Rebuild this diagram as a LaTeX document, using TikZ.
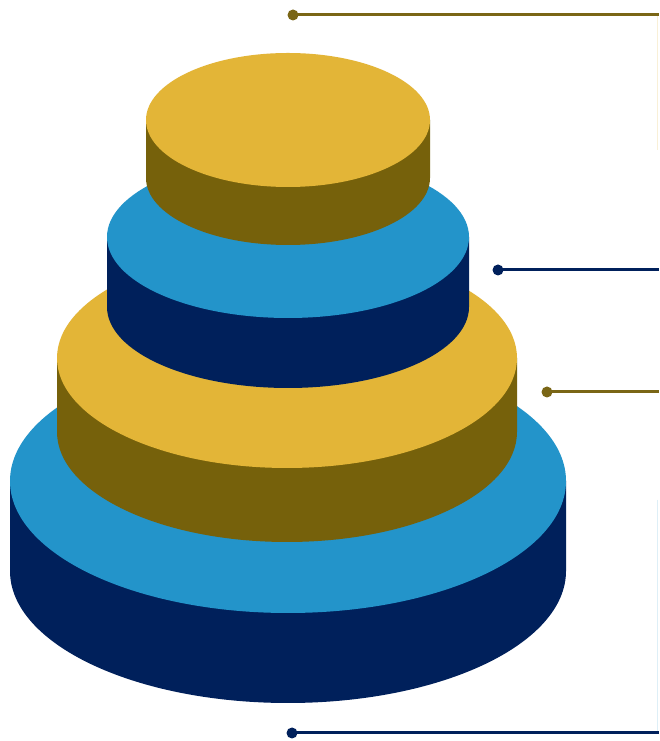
\documentclass[tikz,border=0pt]{standalone}
\definecolor{goldlight}{HTML}{E3B537}
\definecolor{golddark}{HTML}{76610B}
\definecolor{bluelight}{HTML}{2394CA}
\definecolor{bluedark}{HTML}{00205B}
\definecolor{goldline}{HTML}{7A6616}
\newcommand\cakeTier[7]{%
  \fill[#7] (#1-#4,#2) -- (#1-#4,#3) arc[start angle=180,end angle=360,x radius=#4,y radius=#5] -- (#1+#4,#2) -- cycle;
  \fill[#6] (#1,#2) ellipse[x radius=#4,y radius=#5];
}
\tikzset{
  dotnode/.style={circle,inner sep=0pt,minimum size=11pt},
  connector/.style={line width=3pt},
}
\begin{document}
\begin{tikzpicture}[x=1pt,y=1pt]
\useasboundingbox (0,0) rectangle (659,741);
\fill[white] (0,0) rectangle (659,741);
% faint frame marks at the right edge
\draw[goldlight!20,line width=1pt] (657,726) -- (657,591);
\draw[bluelight!15,line width=1pt] (657,241) -- (657,8);
% tiers, bottom to top
\cakeTier{288}{260}{170}{278}{132}{bluelight}{bluedark}
\cakeTier{287}{383}{309}{230}{110}{goldlight}{golddark}
\cakeTier{288}{504}{434}{181}{81}{bluelight}{bluedark}
\cakeTier{288}{621}{563}{142}{67}{goldlight}{golddark}
% connectors
\node[dotnode,fill=goldline] (d1) at (293,726) {};
\coordinate (e1) at (659,726);
\draw[connector,goldline] (d1.center) -- (e1);
\node[dotnode,fill=bluedark] (d2) at (498,471) {};
\coordinate (e2) at (659,471);
\draw[connector,bluedark] (d2.center) -- (e2);
\node[dotnode,fill=goldline] (d3) at (547,349) {};
\coordinate (e3) at (659,349);
\draw[connector,goldline] (d3.center) -- (e3);
\node[dotnode,fill=bluedark] (d4) at (292,8) {};
\coordinate (e4) at (659,8);
\draw[connector,bluedark] (d4.center) -- (e4);
\end{tikzpicture}
\end{document}
